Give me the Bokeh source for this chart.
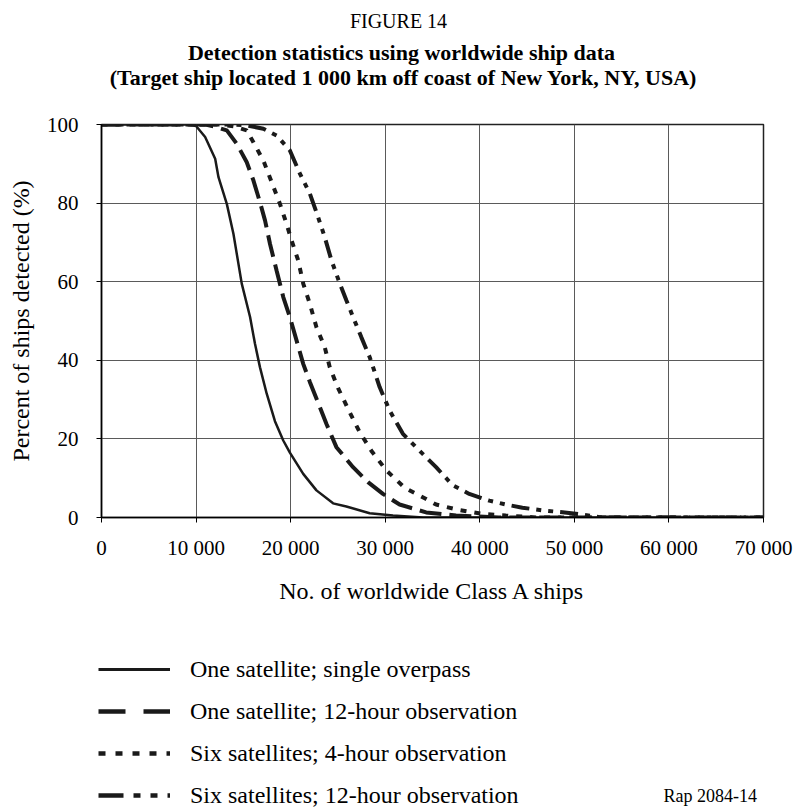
from bokeh.plotting import figure
from bokeh.layouts import column
from bokeh.models import Range1d, FixedTicker, Legend, LegendItem, Label
from bokeh.embed import file_html
from bokeh.resources import INLINE

# --- data: percent of ships detected vs. number of worldwide Class A ships ---
single_pass_x = [0, 9000, 10000, 10960, 12020, 12370, 13250, 13950, 14830, 15710, 16230,
                 16760, 17470, 18340, 19220, 19920, 21330, 22730, 24490, 25890, 28360,
                 30820, 34000, 70000]
single_pass_y = [100, 100, 99.6, 96.8, 91.3, 86.6, 79.8, 72.2, 59.5, 51.0, 44.2,
                 38.2, 31.5, 24.5, 19.6, 16.5, 11.1, 6.9, 3.6, 2.8, 1.1,
                 0.5, 0, 0]

one_sat_12h_x = [0, 11000, 12200, 13250, 14300, 15360, 16060, 16760, 17290, 17820, 18520,
                 19220, 19920, 20630, 21330, 22030, 23090, 23790, 24840, 26600, 28180,
                 29760, 31520, 34330, 37490, 42000, 70000]
one_sat_12h_y = [100, 100, 99.3, 98.5, 95.1, 90.4, 85.8, 80.2, 75.6, 69.6, 62.8,
                 56.1, 51.0, 45.0, 39.1, 34.5, 28.1, 23.8, 17.9, 12.8, 9.0,
                 6.0, 3.3, 1.3, 0.5, 0, 0]

six_sat_4h_x = [0, 12500, 14000, 15360, 16060, 17120, 18000, 18870, 19570, 20100, 20800,
                21330, 22030, 22730, 23610, 24140, 25020, 26240, 27300, 28530, 30110,
                32040, 34330, 35380, 37830, 40290, 42750, 46000, 70000]
six_sat_4h_y = [100, 100, 99.5, 98.5, 95.5, 90.8, 85.3, 79.8, 74.7, 70.5, 65.4,
                59.5, 54.4, 48.4, 43.3, 38.2, 32.9, 26.8, 21.7, 17.0, 12.0,
                7.6, 4.7, 3.3, 1.9, 0.9, 0.5, 0, 0]

six_sat_12h_x = [0, 14000, 15500, 17120, 18520, 19920, 20980, 22030, 22910, 23610, 24320,
                 25200, 25900, 26600, 27470, 28360, 29410, 30470, 31870, 33630, 35380,
                 37140, 38890, 41000, 42750, 44510, 46620, 48500, 51000, 53000, 70000]
six_sat_12h_y = [100, 100, 99.7, 98.9, 97.2, 93.4, 87.5, 82.4, 76.4, 71.3, 65.4,
                 59.5, 55.2, 51.0, 45.9, 40.8, 33.2, 27.2, 21.3, 17.0, 12.8,
                 8.2, 6.0, 4.3, 3.3, 2.5, 1.8, 1.4, 0.7, 0, 0]

series_labels = ["One satellite; single overpass",
                 "One satellite; 12-hour observation",
                 "Six satellites; 4-hour observation",
                 "Six satellites; 12-hour observation"]

x_ticks = [0, 10000, 20000, 30000, 40000, 50000, 60000, 70000]
x_tick_labels = ["0", "10 000", "20 000", "30 000", "40 000", "50 000", "60 000", "70 000"]
y_ticks = [0, 20, 40, 60, 80, 100]

SERIF = "Liberation Serif"
INK = "#1a1a1a"
W = 796

# line styles of the curves, and the slightly more open versions used in the key
styles = [dict(line_color=INK, line_width=2.5, line_join="round"),
          dict(line_color=INK, line_width=4, line_dash="22 8"),
          dict(line_color=INK, line_width=4, line_dash="6 8"),
          dict(line_color=INK, line_width=4, line_dash="18 7 5 7 5 7")]
key_styles = [dict(line_color=INK, line_width=3),
              dict(line_color=INK, line_width=4.5, line_dash="27 18"),
              dict(line_color=INK, line_width=4.5, line_dash="7 10"),
              dict(line_color=INK, line_width=4.5, line_dash="25 10 7 10 7 10")]


def blank(height):
    f = figure(width=W, height=height, output_backend="svg", toolbar_location=None,
               x_axis_type=None, y_axis_type=None, min_border=0,
               x_range=Range1d(0, 1), y_range=Range1d(0, 1))
    f.frame_align = False
    f.outline_line_color = None
    f.grid.visible = False
    f.background_fill_color = "white"
    f.border_fill_color = "white"
    return f


# ---- heading ----
HEAD_H = 110
head = blank(HEAD_H)
head.add_layout(Label(x=398, y=HEAD_H - 20, x_units="screen", y_units="screen",
                      text="FIGURE 14", text_font=SERIF, text_font_size="20px",
                      text_align="center", text_baseline="middle", text_color="black"))
head.add_layout(Label(x=401, y=HEAD_H - 52, x_units="screen", y_units="screen",
                      text="Detection statistics using worldwide ship data",
                      text_font=SERIF, text_font_size="22px", text_font_style="bold",
                      text_align="center", text_baseline="middle", text_color="black"))
head.add_layout(Label(x=403, y=HEAD_H - 77, x_units="screen", y_units="screen",
                      text="(Target ship located 1 000 km off coast of New York, NY, USA)",
                      text_font=SERIF, text_font_size="22px", text_font_style="bold",
                      text_align="center", text_baseline="middle", text_color="black"))

# ---- chart ----
MAIN_H = 515
p = figure(width=W, height=MAIN_H, output_backend="svg", toolbar_location=None,
           x_range=Range1d(0, 70000), y_range=Range1d(0, 100),
           min_border_left=101, min_border_right=33,
           min_border_top=14, min_border_bottom=108)
p.frame_align = False
p.background_fill_color = "white"
p.border_fill_color = "white"
p.outline_line_color = "#222222"
p.outline_line_width = 1.5

p.xaxis.ticker = FixedTicker(ticks=x_ticks)
p.xaxis.major_label_overrides = {t: s for t, s in zip(x_ticks, x_tick_labels)}
p.yaxis.ticker = FixedTicker(ticks=y_ticks)
for ax in (p.xaxis[0], p.yaxis[0]):
    ax.major_label_text_font = SERIF
    ax.major_label_text_font_size = "21px"
    ax.major_label_text_color = "black"
    ax.axis_label_text_font = SERIF
    ax.axis_label_text_font_size = "24px"
    ax.axis_label_text_font_style = "normal"
    ax.axis_label_text_color = "black"
    ax.axis_line_color = "black"
    ax.axis_line_width = 1.5
    ax.major_tick_line_color = "black"
    ax.major_tick_in = 0
    ax.major_tick_out = 5
    ax.minor_tick_line_color = None
p.xaxis.axis_label = "No. of worldwide Class A ships"
p.xaxis.major_label_standoff = 13
p.xaxis.axis_label_standoff = 15
p.yaxis.axis_label = "Percent of ships detected (%)"
p.yaxis.major_label_standoff = 18
p.yaxis.axis_label_standoff = 10

p.xgrid.ticker = FixedTicker(ticks=x_ticks)
p.ygrid.ticker = FixedTicker(ticks=y_ticks)
for g in (p.xgrid[0], p.ygrid[0]):
    g.grid_line_color = "#5a5a5a"
    g.grid_line_width = 1

series = [(single_pass_x, single_pass_y), (one_sat_12h_x, one_sat_12h_y),
          (six_sat_4h_x, six_sat_4h_y), (six_sat_12h_x, six_sat_12h_y)]
for (xs, ys), st in zip(series, styles):
    p.line(xs, ys, **st)

# ---- key: one undrawn proxy line per style carries the legend swatch ----
KEY_H = 809 - HEAD_H - MAIN_H
key = blank(KEY_H)
nan = float("nan")
proxies = [key.line([nan], [nan], **st) for st in key_styles]
legend = Legend(items=[LegendItem(label=lbl, renderers=[r])
                       for lbl, r in zip(series_labels, proxies)],
                location=(98, 0), orientation="vertical",
                label_text_font=SERIF, label_text_font_size="24px",
                label_text_color="black", label_standoff=20,
                glyph_width=72, glyph_height=28, label_height=28,
                spacing=14, padding=0, margin=0,
                border_line_color=None, background_fill_alpha=0)
key.add_layout(legend)
key.add_layout(Label(x=663, y=KEY_H - (795 - HEAD_H - MAIN_H), x_units="screen",
                     y_units="screen", text="Rap 2084-14", text_font=SERIF,
                     text_font_size="18px", text_align="left", text_baseline="middle",
                     text_color="black"))

layout = column(head, p, key, spacing=0)
open("out.html", "w").write(file_html(layout, INLINE))
